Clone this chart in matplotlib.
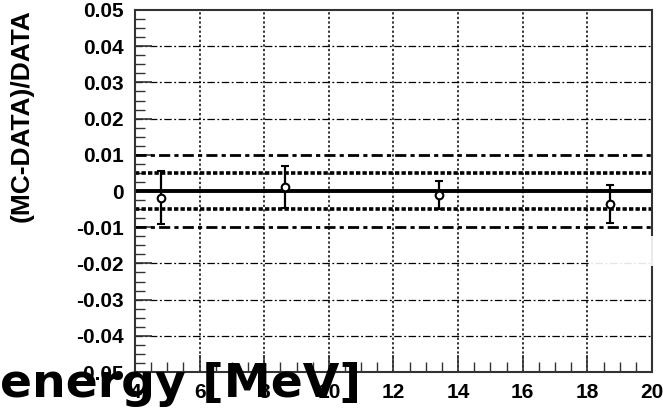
import numpy as np
import matplotlib
matplotlib.use("Agg")
import matplotlib.pyplot as plt
from matplotlib.patches import Rectangle
from matplotlib.ticker import MultipleLocator

# energy points and relative MC/data differences
energy_mev = [4.8, 8.65, 13.4, 18.7]
rel_diff = [-0.0018, 0.0012, -0.0011, -0.0036]
rel_err = [0.0074, 0.0058, 0.0040, 0.0052]

x_ticks = [4, 6, 8, 10, 12, 14, 16, 18, 20]
y_ticks = [-0.05, -0.04, -0.03, -0.02, -0.01, 0, 0.01, 0.02, 0.03, 0.04, 0.05]
y_tick_labels = ["-0.05", "-0.04", "-0.03", "-0.02", "-0.01", "0",
                 "0.01", "0.02", "0.03", "0.04", "0.05"]
band_inner = 0.005
band_outer = 0.01

fig = plt.figure(figsize=(6.63, 4.08), dpi=100)
ax = fig.add_axes([0.2036, 0.0882, 0.7798, 0.8873])

ax.set_xlim(4, 20)
ax.set_ylim(-0.05, 0.05)

# grid: dotted verticals, dash-dot horizontals
for xv in x_ticks[1:-1]:
    ax.axvline(xv, color="black", lw=1.1, ls=(0, (1.5, 1.5)), zorder=1)
for yv in y_ticks[1:-1]:
    if abs(yv) < 1e-9 or abs(abs(yv) - band_outer) < 1e-9:
        continue
    ax.axhline(yv, color="black", lw=0.9, ls=(0, (6, 2, 1.5, 2)), zorder=1)

# reference bands
ax.axhline(0, color="black", lw=2.8, zorder=2)
for s in (1, -1):
    ax.axhline(s * band_outer, color="black", lw=2.0, ls=(0, (4, 1.5, 1.5, 1.5)), zorder=2)
    ax.axhline(s * band_inner, color="black", lw=2.6, ls=(0, (1.2, 0.6)), zorder=2)

ax.errorbar(energy_mev, rel_diff, yerr=rel_err, fmt="o", color="black",
            mfc="white", mec="black", ms=5.5, mew=1.5, elinewidth=1.6,
            capsize=3, capthick=1.6, zorder=3)

ax.set_xticks(x_ticks)
ax.set_xticklabels([str(v) for v in x_ticks])
ax.set_yticks(y_ticks)
ax.set_yticklabels(y_tick_labels)
ax.xaxis.set_minor_locator(MultipleLocator(0.5))
ax.yaxis.set_minor_locator(MultipleLocator(0.0025))
ax.tick_params(which="both", direction="in", top=False, right=False,
               colors="#333333", labelcolor="black")
ax.tick_params(which="major", length=12, width=1.2, pad=8)
ax.tick_params(which="minor", length=7, width=1.0)
for lab in ax.get_xticklabels() + ax.get_yticklabels():
    lab.set_fontfamily("Liberation Sans")
    lab.set_fontweight("bold")
    lab.set_fontsize(15)

for sp in ax.spines.values():
    sp.set_linewidth(1.5)
    sp.set_color("#333333")

fig.text(22 / 663, 1 - 116 / 408, "(MC-DATA)/DATA", rotation=90,
         ha="center", va="center", fontsize=19, fontweight="bold",
         family="Liberation Sans")

fig.text(0.0, 1 - 397 / 408, "energy [MeV]", ha="left", va="baseline",
         fontsize=34, fontweight="bold", family="DejaVu Sans", zorder=10)

# washed-out patch at the right edge
fig.patches.append(Rectangle((590 / 663, 1 - 266 / 408), 73 / 663, 30 / 408,
                             transform=fig.transFigure, facecolor="white",
                             edgecolor="none", alpha=0.9, zorder=5))

fig.savefig("out.png", dpi=100)
